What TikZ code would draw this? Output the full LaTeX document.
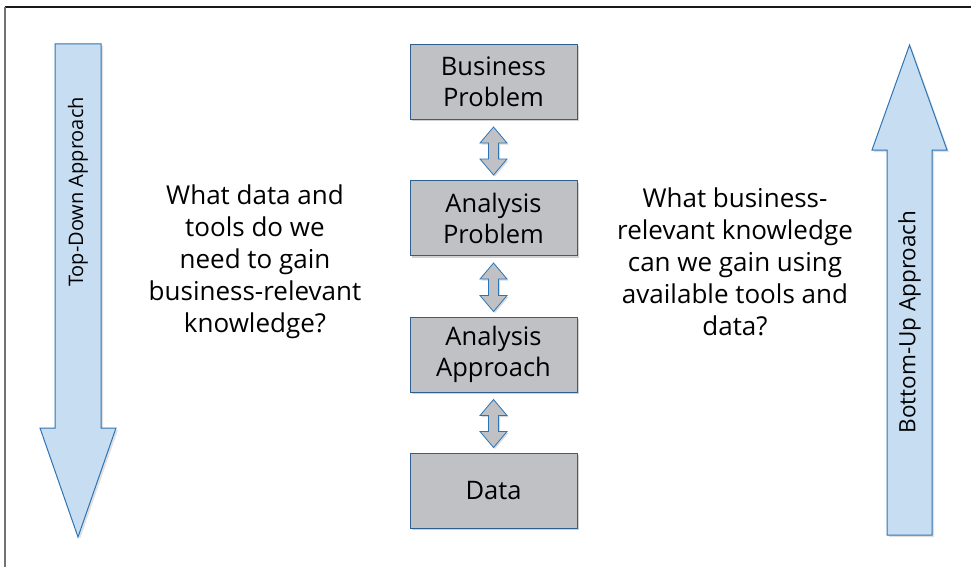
\documentclass[tikz,border=0pt]{standalone}
\usepackage{fontspec}
\setmainfont{Open Sans}
\usetikzlibrary{calc,shadows}

\definecolor{boxgray}{HTML}{BFC1C4}
\definecolor{boxline}{HTML}{2F5F8F}
\definecolor{arrowblue}{HTML}{C7DDF1}
\definecolor{arrowline}{HTML}{2E74B5}

\tikzset{
    stage/.style={draw=boxline, fill=boxgray, line width=1pt, minimum width=167pt,
        minimum height=75pt, align=center, font=\fontsize{25.5}{31}\selectfont,
        drop shadow={shadow xshift=2pt, shadow yshift=-2pt, fill=black!30, opacity=0.6}},
    link/.style={draw=arrowline, fill=boxgray, line width=0.8pt,
        drop shadow={shadow xshift=1.5pt, shadow yshift=-1.5pt, fill=black!30, opacity=0.5}},
    bigarrow/.style={draw=arrowline, fill=arrowblue, line width=1pt,
        drop shadow={shadow xshift=2pt, shadow yshift=-2pt, fill=black!20, opacity=0.6}},
    question/.style={align=center, font=\fontsize{26}{32}\selectfont}
}

% double arrow between two stages
\newcommand{\dblarrow}[2]{%
    \draw[link] ($(#1.south)+(0,7)$) -- ++(13.5,16) -- ++(-8.5,0)
        -- ($(#2.north)+(5,-21)$) -- ++(8.5,0) -- ++(-13.5,16) -- ++(-13.5,-16)
        -- ++(8.5,0) -- ($(#1.south)+(-5,23)$) -- ++(-8.5,0) -- cycle;}

\begin{document}
\begin{tikzpicture}[x=1pt, y=-1pt]
    \useasboundingbox (0,0) rectangle (971,567);

    % frame
    \draw[line width=1.5pt, black!90] (5,7) -- (971,7);
    \draw[line width=1.5pt, black!55] (5,7) -- (5,567);

    % Top-down
    \draw[bigarrow] (55,44) -- (101,44) -- (101,428) -- (116,428) -- (78,537)
        -- (40,428) -- (55,428) -- cycle;
    \node[rotate=90, font=\fontsize{20}{24}\selectfont] (topdown) at (78,192) {Top-Down Approach};

    % Bottom-up
    \draw[bigarrow] (887,535) -- (887,150) -- (872,150) -- (909.5,45) -- (947,150)
        -- (932,150) -- (932,535) -- cycle;
    \node[rotate=90, font=\fontsize{22.5}{26}\selectfont] (bottomup) at (909.5,322) {Bottom-Up Approach};

    % Stages
    \node[stage] (business) at (493.5,82) {Business\\Problem};
    \node[stage] (problem) at (493.5,218) {Analysis\\Problem};
    \node[stage] (approach) at (493.5,354.5) {Analysis\\Approach};
    \node[stage] (data) at (493.5,490.5) {Data};

    \dblarrow{business}{problem}
    \dblarrow{problem}{approach}
    \dblarrow{approach}{data}

    % Questions
    \node[question] (topq) at (255,262) {What data and\\tools do we\\need to gain\\business-relevant\\knowledge?};
    \node[question] (bottomq) at (735,262) {What business-\\relevant knowledge\\can we gain using\\available tools and\\data?};
\end{tikzpicture}
\end{document}
